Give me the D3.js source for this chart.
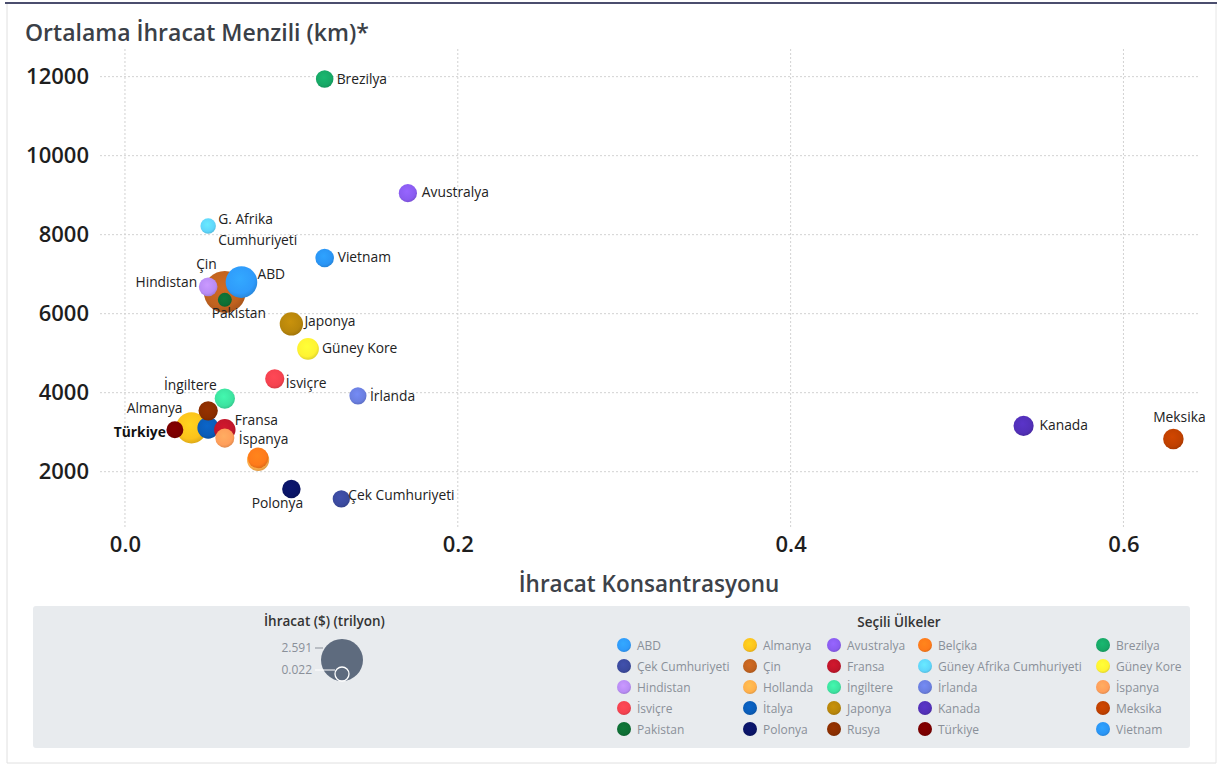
<!DOCTYPE html>
<html>
<head>
	<meta charset="utf-8">
	<title>Ortalama İhracat Menzili</title>
	<script src="https://cdn.jsdelivr.net/npm/d3@7"></script>
	<style>
		body { margin: 0; background: #fff; }
		svg { display: block; font-family: "Open Sans", "Noto Sans", sans-serif; }
	</style>
</head>
<body>
	<svg id="chart" width="1217" height="764"></svg>
	<script type="text/javascript">
		// veri: ülke, ihracat konsantrasyonu, ortalama menzil (km), ihracat (trilyon $)
		var countries = ["ABD", "Almanya", "Avustralya", "Belçika", "Brezilya",
			"Çek Cumhuriyeti", "Çin", "Fransa", "Güney Afrika Cumhuriyeti", "Güney Kore",
			"Hindistan", "Hollanda", "İngiltere", "İrlanda", "İspanya",
			"İsviçre", "İtalya", "Japonya", "Kanada", "Meksika",
			"Pakistan", "Polonya", "Rusya", "Türkiye", "Vietnam"];
		var concentration = [0.07, 0.04, 0.17, 0.08, 0.12,
			0.13, 0.06, 0.06, 0.05, 0.11,
			0.05, 0.08, 0.06, 0.14, 0.06,
			0.09, 0.05, 0.10, 0.54, 0.63,
			0.06, 0.10, 0.05, 0.03, 0.12];
		var distance = [6800, 3110, 9050, 2350, 11940,
			1310, 6550, 3060, 8220, 5110,
			6680, 2300, 3850, 3920, 2850,
			4350, 3110, 5740, 3160, 2830,
			6350, 1560, 3540, 3060, 7410];
		var exportsTr = [1.43, 1.38, 0.25, 0.42, 0.21,
			0.19, 2.591, 0.49, 0.085, 0.51,
			0.28, 0.55, 0.40, 0.18, 0.31,
			0.32, 0.50, 0.64, 0.39, 0.42,
			0.022, 0.27, 0.33, 0.17, 0.28];
		var colors = ["#2f9bfb", "#fcc21b", "#8a5cf0", "#ff7a1a", "#17a866",
			"#3b4a9e", "#c0621f", "#c0152a", "#5fd6fb", "#fff332",
			"#b98cf5", "#ffb04c", "#3de3a0", "#6b7fe0", "#ff9e5a",
			"#f5424f", "#0a5cb8", "#b8860b", "#5230b8", "#bf4000",
			"#0e6e34", "#0a1466", "#8a2e00", "#7a0000", "#2a95f5"];
		var xTicks = [0, 0.2, 0.4, 0.6];
		var yTicks = [2000, 4000, 6000, 8000, 10000, 12000];
		var sizeLegend = [2.591, 0.022];

		// etiket yerleşimi (nokta merkezine göre)
		var labelPos = {
			"ABD": [16, -3, "start"], "Avustralya": [14, 4, "start"], "Brezilya": [12, 5, "start"],
			"Çek Cumhuriyeti": [7, 1, "start"], "Çin": [-8, -23, "end"], "Fransa": [10, -5, "start"],
			"Güney Afrika Cumhuriyeti": [10, -2, "start"], "Güney Kore": [14, 4, "start"],
			"Hindistan": [-11, 0, "end"], "İngiltere": [-8, -9, "end"], "İrlanda": [12, 5, "start"],
			"İspanya": [14, 6, "start"], "İsviçre": [11, 9, "start"], "Japonya": [13, 2, "start"],
			"Kanada": [16, 4, "start"], "Meksika": [6, -17, "middle"], "Pakistan": [14, 18, "middle"],
			"Polonya": [-14, 19, "middle"], "Almanya": [-9, -15, "end"], "Türkiye": [-9, 7, "end"],
			"Vietnam": [13, 4, "start"]
		};

		var svg = d3.select("#chart");
		var defs = svg.append("defs");

		var data = countries.map(function(c, i) {
			return { name: c, x: concentration[i], y: distance[i], v: exportsTr[i], color: colors[i], id: "g" + i };
		});

		data.forEach(function(d) {
			var g = defs.append("radialGradient").attr("id", d.id)
				.attr("cx", "45%").attr("cy", "40%").attr("r", "60%");
			g.append("stop").attr("offset", "0%").attr("stop-color", d3.color(d.color).brighter(0.25));
			g.append("stop").attr("offset", "75%").attr("stop-color", d.color);
			g.append("stop").attr("offset", "100%").attr("stop-color", d3.color(d.color).darker(0.35));
		});

		// çerçeve
		svg.append("line").attr("x1", 7).attr("x2", 7).attr("y1", 3).attr("y2", 763).attr("stroke", "#e0e0e0");
		svg.append("line").attr("x1", 7).attr("x2", 1216).attr("y1", 763).attr("y2", 763).attr("stroke", "#e0e0e0");
		svg.append("line").attr("x1", 1216).attr("x2", 1216).attr("y1", 3).attr("y2", 763).attr("stroke", "#e6e6e6");
		svg.append("line").attr("x1", 5).attr("x2", 1217).attr("y1", 3).attr("y2", 3).attr("stroke", "#4b4e6e").attr("stroke-width", 2);

		var x = d3.scaleLinear().domain([-0.015, 0.646]).range([100, 1200]);
		var y = d3.scaleLinear().domain([600, 12700]).range([527, 49]);
		var r = d3.scalePow().exponent(0.75).domain([0.022, 2.591]).range([7, 21]);

		// ızgara
		svg.append("g").selectAll("line").data(yTicks).enter().append("line")
			.attr("x1", 100).attr("x2", 1200)
			.attr("y1", function(d) { return y(d); }).attr("y2", function(d) { return y(d); })
			.attr("stroke", "#d2d2d2").attr("stroke-dasharray", "2,2");
		svg.append("g").selectAll("line").data(xTicks).enter().append("line")
			.attr("y1", 49).attr("y2", 527)
			.attr("x1", function(d) { return x(d); }).attr("x2", function(d) { return x(d); })
			.attr("stroke", "#d2d2d2").attr("stroke-dasharray", "2,2");

		// eksenler
		var yAxis = svg.append("g").attr("transform", "translate(96,0)")
			.call(d3.axisLeft(y).tickValues(yTicks).tickSize(0).tickPadding(7).tickFormat(d3.format("d")));
		var xAxis = svg.append("g").attr("transform", "translate(0,530)")
			.call(d3.axisBottom(x).tickValues(xTicks).tickSize(0).tickPadding(6).tickFormat(d3.format(".1f")));
		[yAxis, xAxis].forEach(function(a) {
			a.select(".domain").remove();
			a.selectAll("text").attr("font-family", "'Open Sans', sans-serif").attr("font-size", 22)
				.attr("font-weight", 600).attr("fill", "#1e1e1e");
		});

		svg.append("text").attr("x", 25).attr("y", 41).text("Ortalama İhracat Menzili (km)*")
			.attr("font-size", 23).attr("font-weight", 600).attr("fill", "#3b4047");
		svg.append("text").attr("x", 649).attr("y", 592).attr("text-anchor", "middle").text("İhracat Konsantrasyonu")
			.attr("font-size", 22.5).attr("font-weight", 600).attr("fill", "#3d4249");

		// noktalar (büyükten küçüğe)
		var sorted = data.slice().sort(function(a, b) { return b.v - a.v; });
		svg.append("g").selectAll("circle").data(sorted).enter().append("circle")
			.attr("cx", function(d) { return x(d.x); })
			.attr("cy", function(d) { return y(d.y); })
			.attr("r", function(d) { return r(d.v); })
			.attr("fill", function(d) { return "url(#" + d.id + ")"; });

		// etiketler
		var labels = svg.append("g").attr("font-size", 13.8).attr("fill", "#222");
		data.forEach(function(d) {
			var p = labelPos[d.name];
			if (!p) return;
			var t = labels.append("text")
				.attr("x", x(d.x) + p[0]).attr("y", y(d.y) + p[1])
				.attr("text-anchor", p[2]);
			if (d.name === "Güney Afrika Cumhuriyeti") {
				t.append("tspan").text("G. Afrika");
				t.append("tspan").attr("x", x(d.x) + p[0]).attr("dy", 21).text("Cumhuriyeti");
			} else {
				t.text(d.name);
			}
			if (d.name === "Türkiye") t.attr("font-weight", 700).attr("fill", "#111");
		});

		// lejant
		var lg = svg.append("g");
		lg.append("rect").attr("x", 33).attr("y", 606).attr("width", 1157).attr("height", 142)
			.attr("rx", 3).attr("fill", "#e8ebee");
		lg.append("text").attr("x", 264).attr("y", 626).text("İhracat ($) (trilyon)")
			.attr("font-size", 13.5).attr("font-weight", 600).attr("fill", "#333");

		var lcx = 342, lbottom = 681;
		sizeLegend.forEach(function(v, i) {
			var rr = r(v);
			lg.append("circle").attr("cx", lcx).attr("cy", lbottom - rr).attr("r", rr)
				.attr("fill", "#5e6b7e")
				.attr("stroke", i === 0 ? "none" : "#fff").attr("stroke-width", 1.3);
			var ly = i === 0 ? 648 : 670;
			lg.append("line").attr("x1", 315).attr("x2", i === 0 ? 323 : lcx - rr).attr("y1", ly).attr("y2", ly)
				.attr("stroke", i === 0 ? "#8a9099" : "#fff").attr("stroke-width", 1);
			lg.append("text").attr("x", 312).attr("y", ly + 4).attr("text-anchor", "end")
				.text(d3.format(".3f")(v)).attr("font-size", 12).attr("fill", "#8a9099");
		});

		lg.append("text").attr("x", 899).attr("y", 627).attr("text-anchor", "middle").text("Seçili Ülkeler")
			.attr("font-size", 13.5).attr("font-weight", 600).attr("fill", "#333");

		var colX = [624, 750, 834, 925, 1103];
		var rowY = [645, 666, 687, 708, 729];
		data.forEach(function(d, i) {
			var cx = colX[i % 5], cy = rowY[Math.floor(i / 5)];
			lg.append("circle").attr("cx", cx).attr("cy", cy).attr("r", 7)
				.attr("fill", "url(#" + d.id + ")");
			lg.append("text").attr("x", cx + 13).attr("y", cy + 4.5).text(d.name)
				.attr("font-size", 12).attr("fill", "#8a9099");
		});
	</script>
</body>
</html>
